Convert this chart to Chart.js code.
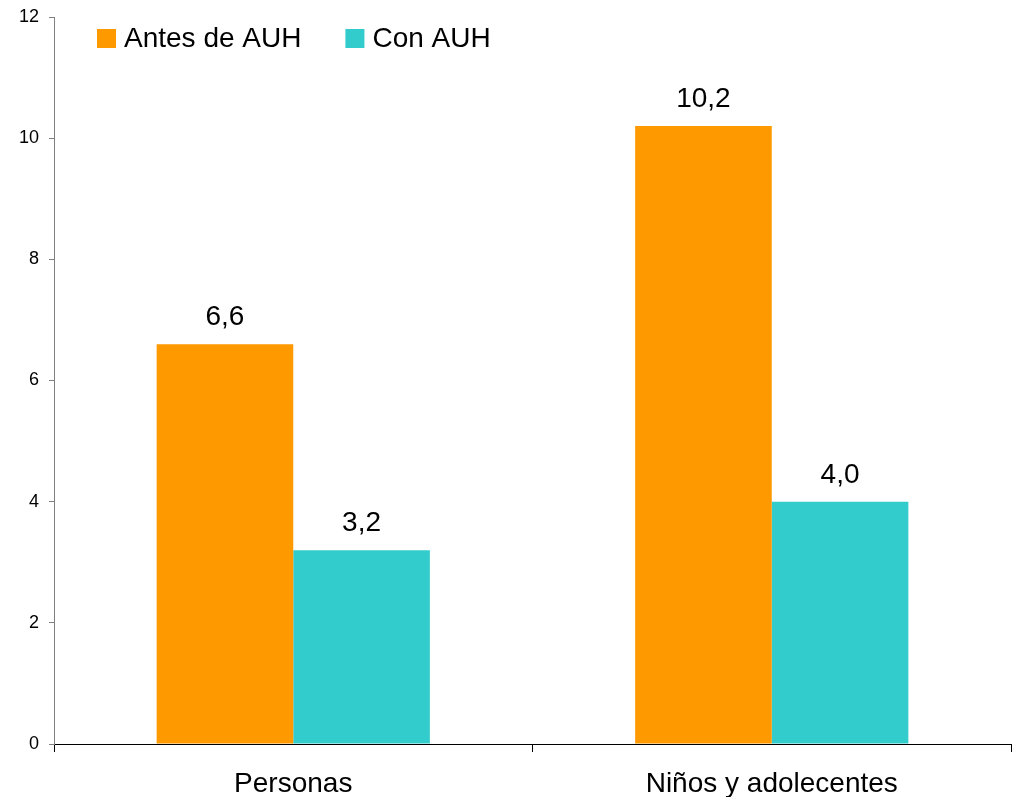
<!DOCTYPE html>
<html>
<head>
<meta charset="utf-8">
<script src="https://cdn.jsdelivr.net/npm/chart.js@4.4.1/dist/chart.umd.min.js"></script>
<style>
  body { margin: 0; background: #fff; }
  #wrap { width: 1012px; height: 797px; }
</style>
</head>
<body>
<div id="wrap"><canvas id="chart" width="1012" height="797"></canvas></div>
<script>
// Chart data
const categories = ["Personas", "Niños y adolecentes"];
const seriesNames = ["Antes de AUH", "Con AUH"];
const antesValues = [6.6, 10.2];
const conValues = [3.2, 4.0];
const yTicks = [0, 2, 4, 6, 8, 10, 12];

const seriesColors = ["#FF9900", "#33CCCC"];
const fontFamily = "'Liberation Sans', Arial, sans-serif";

// Writes the value above each bar, with a decimal comma
const valueLabels = {
  id: "valueLabels",
  afterDatasetsDraw(chart) {
    const ctx = chart.ctx;
    ctx.save();
    ctx.font = "28px " + fontFamily;
    ctx.fillStyle = "#000";
    ctx.textAlign = "center";
    ctx.textBaseline = "alphabetic";
    chart.data.datasets.forEach((ds, i) => {
      const meta = chart.getDatasetMeta(i);
      meta.data.forEach((bar, j) => {
        const text = ds.data[j].toFixed(1).replace(".", ",");
        ctx.fillText(text, bar.x, bar.y - 19);
      });
    });
    ctx.restore();
  },
};

// Legend drawn inside the plot, top left
const insideLegend = {
  id: "insideLegend",
  afterDraw(chart) {
    const ctx = chart.ctx;
    ctx.save();
    ctx.font = "28px " + fontFamily;
    ctx.textBaseline = "middle";
    ctx.textAlign = "left";
    let x = 97;
    const y = 29;
    const box = 19;
    chart.data.datasets.forEach((ds) => {
      ctx.fillStyle = ds.backgroundColor;
      ctx.fillRect(x, y, box, box);
      ctx.fillStyle = "#000";
      ctx.fillText(ds.label, x + box + 8, y + box / 2 + 1);
      x += box + 8 + ctx.measureText(ds.label).width + 44;
    });
    ctx.restore();
  },
};

const ctx = document.getElementById("chart").getContext("2d");
new Chart(ctx, {
  type: "bar",
  data: {
    labels: categories,
    datasets: [
      {
        label: seriesNames[0],
        data: antesValues,
        backgroundColor: seriesColors[0],
        barPercentage: 1,
        categoryPercentage: 0.571,
      },
      {
        label: seriesNames[1],
        data: conValues,
        backgroundColor: seriesColors[1],
        barPercentage: 1,
        categoryPercentage: 0.571,
      },
    ],
  },
  options: {
    responsive: false,
    animation: false,
    devicePixelRatio: 1,
    layout: {
      padding: { left: 0, right: 1, top: 17, bottom: 0 },
    },
    plugins: {
      legend: { display: false },
      tooltip: { enabled: false },
    },
    scales: {
      x: {
        afterFit: (scale) => {
          scale.height = 53;
        },
        grid: {
          drawOnChartArea: false,
          drawTicks: true,
          tickLength: 8,
          color: "#000",
          offset: true,
        },
        border: { color: "#000", width: 1 },
        ticks: {
          color: "#000",
          padding: 18,
          font: { family: fontFamily, size: 28, lineHeight: 1 },
        },
      },
      y: {
        min: 0,
        max: 12,
        afterBuildTicks: (axis) => {
          axis.ticks = yTicks.map((v) => ({ value: v }));
        },
        afterFit: (scale) => {
          scale.width = 54;
          scale.paddingTop = 0;
          scale.paddingBottom = 0;
        },
        grid: {
          drawOnChartArea: false,
          drawTicks: true,
          tickLength: 5,
          color: "#808080",
        },
        border: { color: "#808080", width: 1 },
        ticks: {
          color: "#000",
          padding: 10,
          font: { family: fontFamily, size: 18 },
        },
      },
    },
  },
  plugins: [valueLabels, insideLegend],
});
</script>
</body>
</html>
